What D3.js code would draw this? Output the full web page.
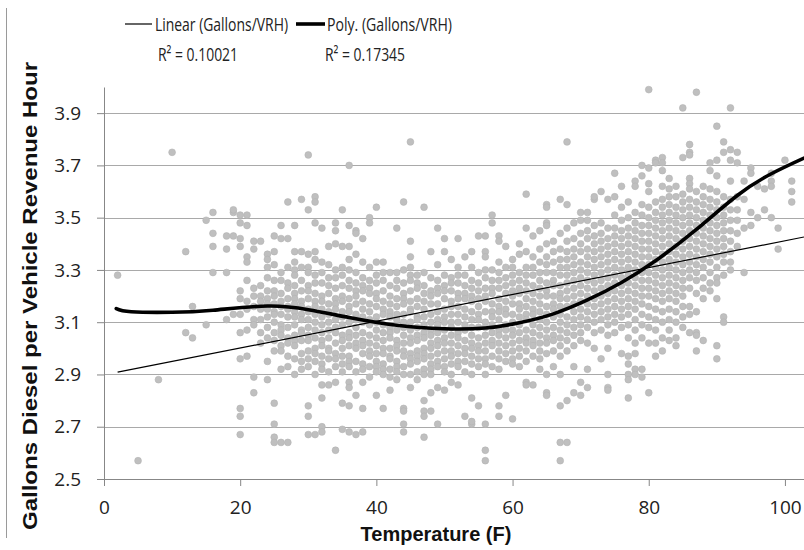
<!DOCTYPE html>
<html lang="en">
<head>
<meta charset="UTF-8">
<title>Gallons Diesel per Vehicle Revenue Hour vs Temperature</title>
<script src="https://d3js.org/d3.v7.min.js"></script>
<style>
  body { margin: 0; background: #fff; }
  svg { display: block; }
  .axis .tick text { font-family: 'Open Sans', sans-serif; font-size: 19px; fill: #222; }
  .axis path, .axis line { stroke: #878787; stroke-width: 1px; }
  .grid line { stroke: #a9a9a9; stroke-width: 1px; }
  .legend text { font-family: 'Open Sans', sans-serif; font-size: 19px; fill: #222; }
  .title { font-family: 'Liberation Sans', Arial, sans-serif; font-weight: bold; font-size: 20px; fill: #111; }
</style>
</head>
<body>
<div id="chart"></div>
<script>
  // temperature columns (F) and the gallons/VRH readings observed at each
  const tempF = [2, 5, 8, 10, 12, 13, 15, 16, 18, 19, 20, 21, 22, 23, 24, 25, 26, 27, 28, 29,
    30, 31, 32, 33, 34, 35, 36, 37, 38, 39, 40, 41, 42, 43, 44, 45, 46, 47, 48, 49,
    50, 51, 52, 53, 54, 55, 56, 57, 58, 59, 60, 61, 62, 63, 64, 65, 66, 67, 68, 69,
    70, 71, 72, 73, 74, 75, 76, 77, 78, 79, 80, 81, 82, 83, 84, 85, 86, 87, 88, 89,
    90, 91, 92, 93, 94, 95, 96, 97, 98, 99, 100, 101];

  const gallonsPerVRH = [
    [3.28], [2.57], [2.88], [3.75], [3.37, 3.06], [3.04, 3.16], [3.49, 3.09],
    [3.52, 3.44, 3.39, 3.29],
    [3.43, 3.38, 3.29, 3.11],
    [3.52, 3.53, 3.43, 3.13],
    [3.51, 3.48, 3.42, 3.39, 3.22, 3.19, 3.13, 3.06, 2.96, 2.77, 2.74, 2.67],
    [3.51, 3.47, 3.35, 3.33, 3.26, 3.18, 3.15, 3.07, 2.97],
    [3.41, 3.38, 3.23, 3.20, 3.16, 3.11, 3.09, 2.89, 2.83],
    [3.41, 3.24, 3.20, 3.18, 3.15, 3.11, 3.06, 3.02],
    [3.36, 3.34, 3.31, 3.27, 3.22, 3.19, 3.17, 3.15, 3.12, 3.08, 3.04, 2.95, 2.88],
    [3.43, 3.37, 3.32, 3.26, 3.22, 3.20, 3.17, 3.14, 3.13, 3.10, 3.06, 3.03, 2.99, 2.79, 2.71, 2.66, 2.64],
    [3.47, 3.42, 3.29, 3.26, 3.21, 3.18, 3.16, 3.13, 3.09, 3.07, 3.05, 3.01, 2.99, 2.92, 2.64],
    [3.56, 3.42, 3.31, 3.25, 3.23, 3.19, 3.16, 3.15, 3.12, 3.08, 3.04, 3.02, 2.97, 2.93, 2.64],
    [3.47, 3.37, 3.33, 3.30, 3.28, 3.24, 3.21, 3.19, 3.17, 3.14, 3.12, 3.09, 3.05, 3.03, 3.01, 2.96, 2.90],
    [3.57, 3.37, 3.31, 3.26, 3.22, 3.18, 3.16, 3.13, 3.11, 3.07, 3.06, 3.03, 2.98, 2.95, 2.92],
    [3.74, 3.53, 3.36, 3.31, 3.29, 3.24, 3.22, 3.19, 3.15, 3.14, 3.11, 3.08, 3.05, 3.03, 2.99, 2.96, 2.93, 2.78, 2.74, 2.67],
    [3.58, 3.56, 3.48, 3.37, 3.34, 3.28, 3.25, 3.21, 3.18, 3.16, 3.13, 3.10, 3.07, 3.04, 3.00, 2.98, 2.95, 2.90, 2.67],
    [3.46, 3.33, 3.29, 3.25, 3.20, 3.18, 3.15, 3.12, 3.09, 3.06, 3.03, 3.01, 2.97, 2.94, 2.92, 2.86, 2.81, 2.70, 2.68],
    [3.39, 3.32, 3.27, 3.24, 3.21, 3.17, 3.14, 3.13, 3.10, 3.07, 3.04, 3.00, 2.99, 2.96, 2.91, 2.86],
    [3.48, 3.45, 3.40, 3.30, 3.27, 3.23, 3.19, 3.17, 3.15, 3.11, 3.08, 3.06, 3.02, 2.98, 2.96, 2.93, 2.87, 2.61],
    [3.53, 3.39, 3.31, 3.28, 3.24, 3.20, 3.18, 3.14, 3.12, 3.09, 3.05, 3.03, 3.00, 2.97, 2.94, 2.91, 2.79, 2.69],
    [3.70, 3.47, 3.39, 3.34, 3.30, 3.26, 3.23, 3.19, 3.16, 3.14, 3.10, 3.06, 3.04, 3.01, 2.97, 2.95, 2.93, 2.87, 2.85, 2.78, 2.68],
    [3.45, 3.44, 3.36, 3.29, 3.25, 3.22, 3.20, 3.17, 3.13, 3.11, 3.08, 3.05, 3.02, 3.00, 2.95, 2.91, 2.82, 2.67],
    [3.42, 3.33, 3.27, 3.24, 3.22, 3.18, 3.15, 3.12, 3.10, 3.06, 3.03, 3.01, 2.98, 2.94, 2.92, 2.87, 2.77, 2.68],
    [3.50, 3.48, 3.31, 3.26, 3.23, 3.21, 3.17, 3.14, 3.11, 3.09, 3.05, 3.02, 2.99, 2.97, 2.93, 2.89],
    [3.54, 3.33, 3.28, 3.25, 3.21, 3.19, 3.16, 3.12, 3.10, 3.07, 3.04, 3.01, 2.98, 2.95, 2.93, 2.91, 2.82],
    [3.33, 3.29, 3.26, 3.22, 3.18, 3.15, 3.13, 3.09, 3.06, 3.03, 3.00, 2.98, 2.94, 2.92, 2.90, 2.77],
    [3.29, 3.24, 3.20, 3.17, 3.14, 3.12, 3.08, 3.06, 3.04, 3.00, 2.97, 2.96, 2.92, 2.89, 2.84],
    [3.46, 3.29, 3.26, 3.23, 3.19, 3.16, 3.13, 3.11, 3.07, 3.03, 3.01, 2.99, 2.95, 2.93, 2.91, 2.88],
    [3.56, 3.30, 3.25, 3.21, 3.19, 3.17, 3.13, 3.10, 3.08, 3.05, 3.02, 2.99, 2.97, 2.93, 2.90, 2.77, 2.76, 2.71, 2.68],
    [3.79, 3.41, 3.35, 3.31, 3.28, 3.26, 3.22, 3.18, 3.15, 3.14, 3.10, 3.07, 3.04, 3.02, 2.98, 2.96, 2.94, 2.90, 2.85],
    [3.28, 3.25, 3.23, 3.19, 3.16, 3.12, 3.11, 3.08, 3.05, 3.03, 2.99, 2.97, 2.95, 2.91, 2.88],
    [3.54, 3.29, 3.24, 3.21, 3.18, 3.15, 3.12, 3.09, 3.06, 3.04, 3.00, 2.98, 2.96, 2.92, 2.90, 2.80, 2.76, 2.74, 2.66],
    [3.37, 3.27, 3.22, 3.20, 3.17, 3.13, 3.10, 3.07, 3.05, 3.02, 3.00, 2.97, 2.94, 2.92, 2.90, 2.83, 2.76],
    [3.46, 3.32, 3.26, 3.23, 3.21, 3.17, 3.14, 3.11, 3.09, 3.06, 3.03, 3.01, 2.98, 2.95, 2.93, 2.85, 2.71],
    [3.42, 3.37, 3.28, 3.24, 3.22, 3.19, 3.15, 3.12, 3.10, 3.07, 3.04, 3.02, 2.99, 2.96, 2.93, 2.91, 2.84],
    [3.34, 3.27, 3.25, 3.22, 3.18, 3.16, 3.13, 3.10, 3.08, 3.05, 3.02, 2.99, 2.97, 2.94, 2.90, 2.87],
    [3.42, 3.31, 3.28, 3.25, 3.21, 3.19, 3.16, 3.13, 3.10, 3.06, 3.04, 3.01, 2.98, 2.95, 2.93, 2.86],
    [3.35, 3.28, 3.24, 3.21, 3.19, 3.15, 3.12, 3.09, 3.07, 3.03, 3.00, 2.98, 2.95, 2.91, 2.74],
    [3.37, 3.31, 3.26, 3.23, 3.20, 3.18, 3.14, 3.11, 3.08, 3.05, 3.02, 3.00, 2.97, 2.94, 2.90, 2.81, 2.71, 2.72],
    [3.43, 3.29, 3.25, 3.22, 3.19, 3.16, 3.13, 3.11, 3.08, 3.04, 3.01, 2.99, 2.96, 2.93, 2.78],
    [3.43, 3.37, 3.35, 3.30, 3.27, 3.23, 3.20, 3.18, 3.14, 3.10, 3.08, 3.05, 3.02, 2.99, 2.96, 2.94, 2.90, 2.71, 2.61, 2.57],
    [3.51, 3.48, 3.30, 3.26, 3.23, 3.21, 3.17, 3.14, 3.12, 3.09, 3.06, 3.03, 3.01, 2.97, 2.93],
    [3.43, 3.41, 3.33, 3.29, 3.26, 3.23, 3.19, 3.16, 3.14, 3.11, 3.07, 3.05, 3.02, 2.99, 2.96, 2.92, 2.78, 2.74],
    [3.39, 3.31, 3.27, 3.24, 3.21, 3.18, 3.15, 3.13, 3.09, 3.07, 3.04, 3.01, 2.98, 2.95, 2.82],
    [3.34, 3.31, 3.28, 3.25, 3.22, 3.20, 3.17, 3.13, 3.10, 3.07, 3.05, 3.02, 2.99, 2.96, 2.94, 2.73],
    [3.40, 3.36, 3.29, 3.26, 3.23, 3.21, 3.17, 3.15, 3.12, 3.09, 3.06, 3.03, 3.00, 2.97, 2.93],
    [3.59, 3.46, 3.37, 3.31, 3.28, 3.25, 3.22, 3.19, 3.16, 3.13, 3.11, 3.07, 3.04, 3.02, 2.99, 2.95, 2.87, 2.86],
    [3.43, 3.35, 3.31, 3.28, 3.24, 3.21, 3.18, 3.15, 3.13, 3.09, 3.06, 3.03, 3.01, 2.97, 2.86],
    [3.45, 3.38, 3.33, 3.29, 3.26, 3.23, 3.20, 3.17, 3.14, 3.11, 3.08, 3.05, 3.02, 2.99, 2.96, 2.92],
    [3.55, 3.54, 3.48, 3.47, 3.40, 3.35, 3.32, 3.29, 3.25, 3.22, 3.20, 3.16, 3.13, 3.10, 3.07, 3.04, 3.02, 2.98, 2.90, 2.83, 2.82],
    [3.41, 3.37, 3.33, 3.29, 3.26, 3.24, 3.20, 3.17, 3.15, 3.12, 3.08, 3.05, 3.03, 2.99, 2.93],
    [3.57, 3.44, 3.38, 3.34, 3.31, 3.28, 3.24, 3.21, 3.19, 3.16, 3.13, 3.10, 3.07, 3.04, 3.01, 2.97, 2.90, 2.78, 2.64, 2.57],
    [3.79, 3.55, 3.46, 3.41, 3.37, 3.34, 3.31, 3.28, 3.25, 3.22, 3.19, 3.16, 3.12, 3.09, 3.06, 3.03, 2.99, 2.80, 2.64],
    [3.48, 3.42, 3.38, 3.35, 3.32, 3.29, 3.26, 3.23, 3.20, 3.17, 3.14, 3.11, 3.08, 3.05, 3.01, 2.93, 2.83],
    [3.52, 3.49, 3.44, 3.40, 3.37, 3.33, 3.30, 3.27, 3.24, 3.21, 3.18, 3.15, 3.12, 3.09, 3.06, 3.03, 2.87, 2.82],
    [3.52, 3.49, 3.45, 3.42, 3.38, 3.35, 3.32, 3.29, 3.26, 3.23, 3.20, 3.17, 3.14, 3.11, 3.08, 3.02, 2.92, 2.85],
    [3.57, 3.58, 3.47, 3.43, 3.40, 3.37, 3.34, 3.31, 3.28, 3.25, 3.22, 3.19, 3.16, 3.13, 3.10, 3.06, 3.00],
    [3.60, 3.48, 3.44, 3.41, 3.38, 3.35, 3.32, 3.29, 3.26, 3.23, 3.20, 3.17, 3.14, 3.11, 3.07, 2.96],
    [3.57, 3.46, 3.42, 3.39, 3.36, 3.33, 3.30, 3.27, 3.24, 3.21, 3.18, 3.15, 3.12, 3.09, 3.05, 3.00, 2.90, 2.85, 2.84],
    [3.67, 3.58, 3.51, 3.46, 3.43, 3.40, 3.37, 3.34, 3.31, 3.28, 3.25, 3.22, 3.19, 3.16, 3.13, 3.10, 3.06],
    [3.62, 3.54, 3.49, 3.45, 3.42, 3.39, 3.36, 3.33, 3.30, 3.27, 3.24, 3.21, 3.18, 3.15, 3.12, 3.08, 2.98],
    [3.56, 3.50, 3.46, 3.43, 3.40, 3.37, 3.34, 3.31, 3.28, 3.25, 3.22, 3.19, 3.16, 3.13, 3.09, 3.04, 2.97, 2.94, 2.90, 2.88, 2.81],
    [3.64, 3.62, 3.52, 3.48, 3.45, 3.42, 3.39, 3.36, 3.33, 3.30, 3.27, 3.24, 3.21, 3.18, 3.15, 3.11, 3.07, 3.02, 2.98, 2.92, 2.90],
    [3.70, 3.66, 3.55, 3.51, 3.47, 3.44, 3.41, 3.38, 3.35, 3.32, 3.29, 3.26, 3.23, 3.20, 3.17, 3.13, 3.09, 3.04, 2.92, 2.89],
    [3.99, 3.69, 3.63, 3.60, 3.54, 3.50, 3.47, 3.44, 3.41, 3.38, 3.35, 3.32, 3.29, 3.26, 3.23, 3.20, 3.16, 3.12, 3.08, 3.02, 2.83],
    [3.72, 3.71, 3.56, 3.52, 3.49, 3.46, 3.43, 3.40, 3.37, 3.34, 3.31, 3.28, 3.25, 3.22, 3.19, 3.15, 3.11, 3.07, 3.02, 2.97],
    [3.73, 3.71, 3.68, 3.62, 3.57, 3.54, 3.51, 3.48, 3.45, 3.42, 3.39, 3.36, 3.33, 3.30, 3.27, 3.24, 3.21, 3.18, 3.14, 3.10, 3.04, 2.99],
    [3.65, 3.61, 3.58, 3.55, 3.52, 3.49, 3.46, 3.43, 3.40, 3.37, 3.34, 3.31, 3.28, 3.25, 3.22, 3.19, 3.15, 3.11, 3.07, 3.03],
    [3.62, 3.58, 3.54, 3.51, 3.48, 3.45, 3.42, 3.39, 3.36, 3.33, 3.30, 3.27, 3.24, 3.21, 3.18, 3.14, 3.10, 3.04, 3.01],
    [3.92, 3.73, 3.59, 3.56, 3.53, 3.50, 3.47, 3.44, 3.41, 3.38, 3.35, 3.32, 3.29, 3.26, 3.23, 3.20, 3.16, 3.12, 3.08],
    [3.78, 3.75, 3.74, 3.65, 3.63, 3.61, 3.57, 3.54, 3.51, 3.48, 3.45, 3.42, 3.39, 3.36, 3.33, 3.30, 3.27, 3.23, 3.16, 3.13, 3.06],
    [3.98, 3.60, 3.56, 3.53, 3.50, 3.47, 3.44, 3.41, 3.38, 3.35, 3.32, 3.29, 3.26, 3.21, 3.14, 3.06, 3.05, 2.99],
    [3.62, 3.58, 3.55, 3.52, 3.49, 3.46, 3.43, 3.40, 3.37, 3.34, 3.31, 3.27, 3.23, 3.19, 3.03],
    [3.71, 3.68, 3.61, 3.57, 3.54, 3.51, 3.48, 3.45, 3.42, 3.39, 3.36, 3.33, 3.29, 3.25, 3.22],
    [3.85, 3.72, 3.66, 3.60, 3.56, 3.53, 3.50, 3.47, 3.44, 3.41, 3.38, 3.35, 3.31, 3.27, 3.25, 3.19, 3.01, 2.96],
    [3.79, 3.75, 3.58, 3.54, 3.51, 3.48, 3.45, 3.42, 3.39, 3.36, 3.33, 3.28, 3.12, 3.10],
    [3.92, 3.76, 3.72, 3.64, 3.57, 3.53, 3.49, 3.45, 3.41, 3.37, 3.33, 3.30],
    [3.75, 3.71, 3.58, 3.53, 3.49, 3.44, 3.39],
    [3.64, 3.57, 3.46, 3.29],
    [3.69, 3.67, 3.52, 3.47],
    [3.62, 3.50],
    [3.61, 3.53],
    [3.67, 3.64, 3.62, 3.50],
    [3.46, 3.38],
    [3.72],
    [3.64, 3.60, 3.56]
  ];

  // trend lines
  const linearTemp = [2, 102.8];
  const linearGallons = [2.909, 3.426];
  const polyTemp = [1.8, 4, 10, 16, 24, 30, 36, 43, 50, 56, 61, 66, 71, 76, 81, 87, 93, 98, 102.8];
  const polyGallons = [3.152, 3.14, 3.138, 3.146, 3.162, 3.148, 3.118, 3.088, 3.075, 3.078, 3.098,
    3.132, 3.185, 3.252, 3.335, 3.455, 3.585, 3.668, 3.728];

  const xTicks = [0, 20, 40, 60, 80, 100];
  const yTicks = [2.5, 2.7, 2.9, 3.1, 3.3, 3.5, 3.7, 3.9];
  const legendLabels = ["Linear (Gallons/VRH)", "Poly. (Gallons/VRH)"];
  const rSquared = ["R² = 0.10021", "R² = 0.17345"];

  const width = 804, height = 550;
  const svg = d3.select("#chart").append("svg")
    .attr("width", width)
    .attr("height", height);

  const x = d3.scaleLinear().domain([0, 102.8]).range([104, 804]);
  const y = d3.scaleLinear().domain([2.5, 4.0]).range([479, 87]);

  // chart frame edge on the left
  svg.append("line")
    .attr("x1", 6.5).attr("x2", 6.5).attr("y1", 8).attr("y2", 538)
    .attr("stroke", "#9a9a9a");

  // gridlines
  svg.append("g").attr("class", "grid")
    .selectAll("line")
    .data(yTicks.filter(d => d > 2.5))
    .join("line")
    .attr("x1", x(0)).attr("x2", width)
    .attr("y1", d => Math.round(y(d)) + 0.5)
    .attr("y2", d => Math.round(y(d)) + 0.5);

  // scatter points
  const points = [];
  tempF.forEach((t, i) => gallonsPerVRH[i].forEach(g => points.push({ t, g })));

  svg.append("g")
    .selectAll("circle")
    .data(points)
    .join("circle")
    .attr("cx", d => x(d.t))
    .attr("cy", d => y(d.g))
    .attr("r", 3.4)
    .attr("fill", "#bfbfbf")
    .attr("stroke", "#b3b3b3")
    .attr("stroke-width", 0.6);

  // axes
  const xAxis = svg.append("g").attr("class", "axis")
    .attr("transform", `translate(0,${y(2.5)})`)
    .call(d3.axisBottom(x).tickValues(xTicks).tickSize(7).tickSizeOuter(0).tickPadding(15));
  xAxis.select(".domain").attr("d", `M${x(0)},0.5H${width}`);

  svg.append("g").attr("class", "axis")
    .attr("transform", `translate(${x(0)},0)`)
    .call(d3.axisLeft(y).tickValues(yTicks).tickFormat(d3.format(".1f"))
      .tickSize(7).tickSizeOuter(0).tickPadding(16));

  // trend lines
  svg.append("path")
    .datum(linearTemp.map((t, i) => [t, linearGallons[i]]))
    .attr("fill", "none")
    .attr("stroke", "#000")
    .attr("stroke-width", 1.2)
    .attr("d", d3.line().x(d => x(d[0])).y(d => y(d[1])));

  svg.append("path")
    .datum(polyTemp.map((t, i) => [t, polyGallons[i]]))
    .attr("fill", "none")
    .attr("stroke", "#000")
    .attr("stroke-width", 3.6)
    .attr("stroke-linecap", "round")
    .attr("d", d3.line().curve(d3.curveNatural).x(d => x(d[0])).y(d => y(d[1])));

  // legend
  const legend = svg.append("g").attr("class", "legend");
  const legendItems = [
    { x0: 125, x1: 152, tx: 155, rx: 158, w: 1.2, len: 133 },
    { x0: 296, x1: 325, tx: 327, rx: 325, w: 3.6, len: 125 }
  ];
  legendItems.forEach((item, i) => {
    legend.append("line")
      .attr("x1", item.x0).attr("x2", item.x1)
      .attr("y1", 24).attr("y2", 24)
      .attr("stroke", "#000").attr("stroke-width", item.w);
    legend.append("text")
      .attr("x", item.tx).attr("y", 24).attr("dy", "0.35em")
      .attr("textLength", item.len).attr("lengthAdjust", "spacingAndGlyphs")
      .text(legendLabels[i]);
    legend.append("text")
      .attr("x", item.rx).attr("y", 54).attr("dy", "0.35em")
      .attr("textLength", 80).attr("lengthAdjust", "spacingAndGlyphs")
      .text(rSquared[i]);
  });

  // axis titles
  svg.append("text").attr("class", "title")
    .attr("transform", "translate(37,296) rotate(-90)")
    .attr("text-anchor", "middle")
    .attr("textLength", 468).attr("lengthAdjust", "spacingAndGlyphs")
    .text("Gallons Diesel per Vehicle Revenue Hour");

  svg.append("text").attr("class", "title")
    .attr("x", 436).attr("y", 541)
    .attr("text-anchor", "middle")
    .text("Temperature (F)");
</script>
</body>
</html>
